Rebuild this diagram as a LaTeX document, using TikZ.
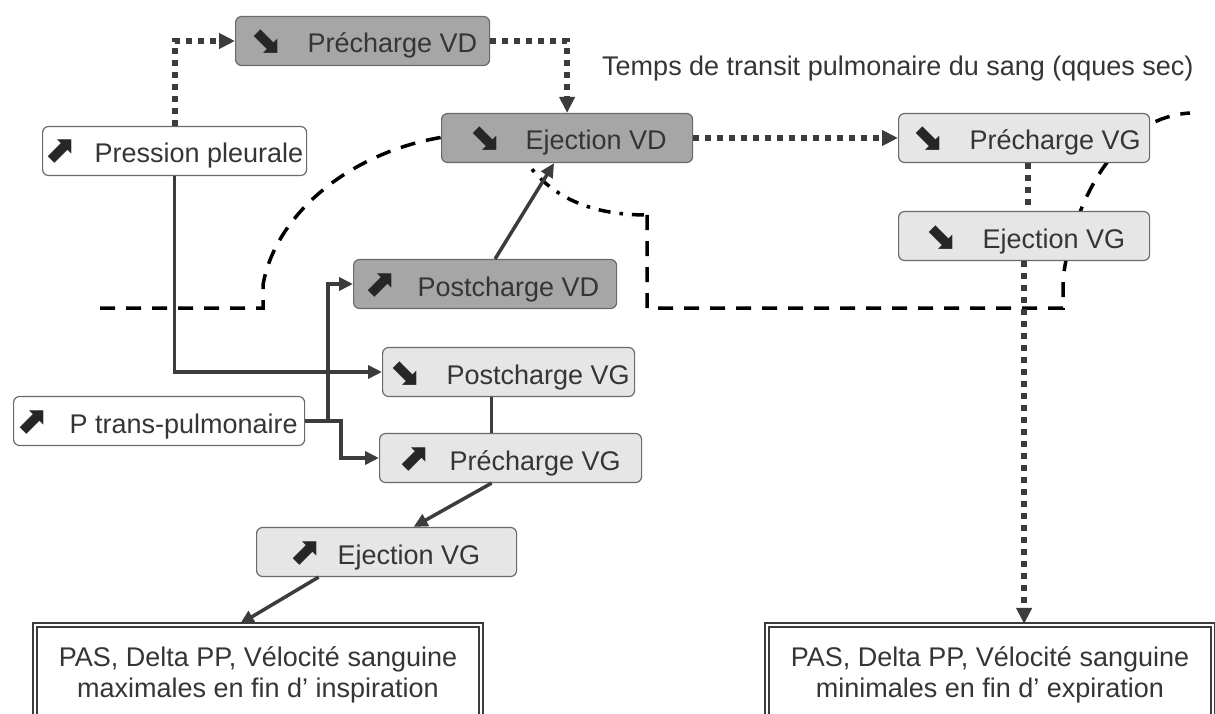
\documentclass[tikz,border=0pt]{standalone}
\usepackage{fontspec}
\setmainfont{Liberation Sans}
\newfontfamily\icofont{DejaVu Sans}
\usetikzlibrary{arrows.meta}
\definecolor{darkfill}{HTML}{A6A6A6}
\definecolor{lightfill}{HTML}{E6E6E6}
\definecolor{bordercol}{HTML}{6A6A6A}
\definecolor{txtcol}{HTML}{353535}
\definecolor{linecol}{HTML}{3C3C3C}
\definecolor{icocol}{HTML}{262626}
\newcommand{\mainfs}{\fontsize{27}{31}\selectfont}
\newcommand{\boxlab}[4]{\makebox[#1][l]{\makebox[22pt][l]{\hspace*{-3pt}\raisebox{0pt}{\color{icocol}\icofont\bfseries\fontsize{38}{38}\selectfont #2}}\hspace{#3}#4}}
\begin{document}
\begin{tikzpicture}[x=1pt,y=-1pt,
  box/.style={draw=bordercol, line width=1.2pt, rounded corners=6pt, minimum height=49pt, inner ysep=0pt, text height=27pt, text depth=3pt, anchor=west, font=\mainfs, text=txtcol},
  conn/.style={draw=linecol, line width=3.5pt, -{Triangle[length=14pt,width=13pt]}},
  plain/.style={draw=linecol, line width=3.5pt},
  dotline/.style={draw=linecol, line width=6pt, dash pattern=on 6pt off 6pt},
  dotconn/.style={dotline, -{Triangle[length=16pt,width=15pt]}},
  bound/.style={draw=black, line width=3.5pt, dash pattern=on 15pt off 11pt},
  bounddot/.style={draw=black, line width=3.5pt, dash pattern=on 12pt off 9pt on 3.5pt off 9pt},
  resbox/.style={draw=linecol, line width=2.2pt, double=white, double distance=2.5pt, fill=white, minimum height=100pt, inner sep=0pt, align=center, font=\mainfs, text=txtcol}
]
\useasboundingbox (0,0) rectangle (1215,714);
\clip (0,0) rectangle (1215,714);
\fill[white] (0,0) rectangle (1215,714);

% boundary line
\draw[bound] (100,308) -- (263,308) -- (263,285) .. controls (275,215) and (350,150) .. (450,136);
\draw[bounddot] (520,152) .. controls (548,200) and (595,215) .. (647,215);
\draw[bound] (647,215) -- (647,308) -- (1063,308) -- (1063,280) .. controls (1070,215) and (1110,118) .. (1190,113);

% nodes
\node[box, fill=darkfill, inner xsep=17pt] (pvd) at (235,41) {\boxlab{220pt}{⬊}{33pt}{Précharge VD}};
\node[box, fill=white, inner xsep=4pt] (pp) at (42,151) {\boxlab{256pt}{⬈}{26pt}{Pression pleurale}};
\node[box, fill=darkfill, inner xsep=30pt] (ejvd) at (441,138) {\boxlab{191pt}{⬊}{32pt}{Ejection VD}};
\node[box, fill=lightfill, inner xsep=16pt] (pvg1) at (898,138) {\boxlab{219pt}{⬊}{33pt}{Précharge VG}};
\node[box, fill=lightfill, inner xsep=29pt] (ejvg1) at (898,236) {\boxlab{193pt}{⬊}{33pt}{Ejection VG}};
\node[box, fill=darkfill, inner xsep=13pt] (postvd) at (353,284) {\boxlab{237pt}{⬈}{29pt}{Postcharge VD}};
\node[box, fill=lightfill, inner xsep=9pt] (postvg) at (382,372) {\boxlab{234pt}{⬊}{33pt}{Postcharge VG}};
\node[box, fill=white, inner xsep=5pt] (ptp) at (13,421) {\boxlab{281pt}{⬈}{29pt}{P trans-pulmonaire}};
\node[box, fill=lightfill, inner xsep=21pt] (pvg2) at (379,458) {\boxlab{220pt}{⬈}{27pt}{Précharge VG}};
\node[box, fill=lightfill, inner xsep=35pt] (ejvg2) at (256,552) {\boxlab{190pt}{⬈}{24pt}{Ejection VG}};

\node[anchor=base west, font=\mainfs, text=txtcol, inner sep=0pt] (temps) at (602,76) {Temps de transit pulmonaire du sang (qques sec)};

\node[resbox, minimum width=446pt] (lbox) at (258,675) {PAS, Delta PP, Vélocité sanguine\\maximales en fin d' inspiration};
\node[resbox, minimum width=446pt] (rbox) at (990,675) {PAS, Delta PP, Vélocité sanguine\\minimales en fin d' expiration};

% dotted connectors
\draw[dotconn] (pp.north) |- (pvd.west);
\draw[dotconn] (pvd.east) -| (ejvd.north);
\draw[dotconn] (ejvd.east) -- (pvg1.west);
\draw[dotline] ([xshift=3.5pt]pvg1.south) -- ([xshift=3.5pt]pvg1.south |- ejvg1.north);
\draw[dotconn] (ejvg1.south) -- (ejvg1.south |- rbox.north);

% solid connectors
\coordinate (br) at (328,421);
\coordinate (br2) at (341,421);
\draw[conn] (pp.south) |- (postvg.west);
\draw[conn] (ptp.east) -- (br) |- (postvd.west);
\draw[conn] (br) -- (br2) |- (pvg2.west);
\draw[conn] ([xshift=10pt]postvd.north) -- ([xshift=-13pt]ejvd.south);
\draw[plain] ([xshift=-17pt]postvg.south) -- ([xshift=-17pt]postvg.south |- pvg2.north);
\draw[conn] ([xshift=-19pt]pvg2.south) -- ([xshift=27pt]ejvg2.north);
\draw[conn] ([xshift=-68pt]ejvg2.south) -- ([xshift=-18pt]lbox.north);
\end{tikzpicture}
\end{document}
